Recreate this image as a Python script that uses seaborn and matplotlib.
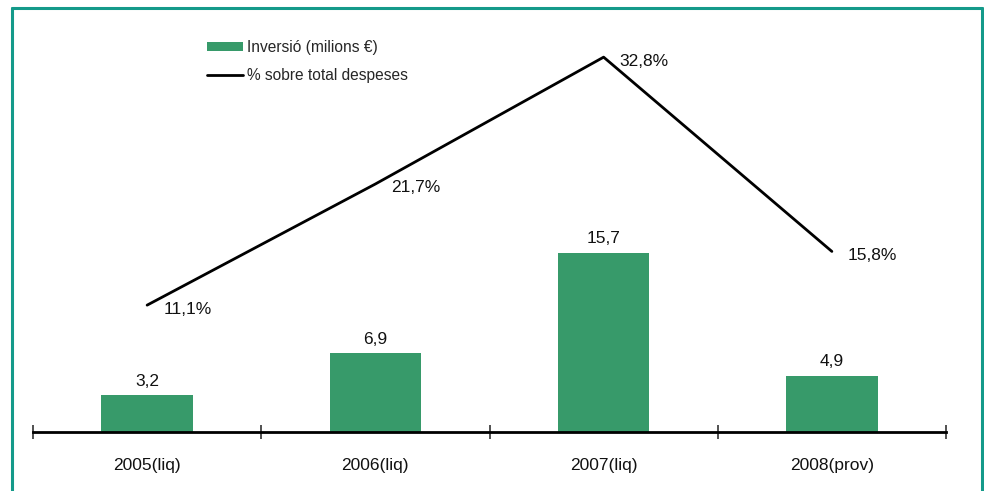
import matplotlib
matplotlib.use("Agg")
import matplotlib.pyplot as plt
from matplotlib.lines import Line2D
from matplotlib.patches import Patch
import seaborn as sns
import numpy as np
import pandas as pd

categories = ["2005(liq)", "2006(liq)", "2007(liq)", "2008(prov)"]
inversio = [3.2, 6.9, 15.7, 4.9]
pct_despeses = [11.1, 21.7, 32.8, 15.8]
bar_labels = ["3,2", "6,9", "15,7", "4,9"]
pct_labels = ["11,1%", "21,7%", "32,8%", "15,8%"]

BAR_COLOR = "#379a6a"
FRAME_COLOR = "#149a8a"
FS = 12.5
LEG_FS = 11.2

sns.set_theme(style="white")
plt.rcParams["font.family"] = ["Liberation Sans", "DejaVu Sans"]

W, H = 984, 491
fig = plt.figure(figsize=(W / 100, H / 100), dpi=100)
ax = fig.add_axes([33 / W, 1 - 432 / H, (946 - 33) / W, (432 - 32) / H])

df = pd.DataFrame({"any": categories, "inversio": inversio, "pct": pct_despeses})

sns.barplot(data=df, x="any", y="inversio", color=BAR_COLOR, width=0.4,
            saturation=1, linewidth=0, ax=ax, zorder=2)
ymax = 35
ax.set_ylim(0, ymax)
ax.set_xlim(-0.5, 3.5)

for i, (v, lab) in enumerate(zip(inversio, bar_labels)):
    ax.annotate(lab, (i, v), xytext=(0, 14), textcoords="offset pixels",
                ha="center", va="center", fontsize=FS, color="#111111")

# percentage series on a secondary axis with the same range
ax2 = ax.twinx()
sns.lineplot(data=df, x="any", y="pct", color="black", linewidth=2,
             sort=False, ax=ax2, zorder=3)
ax2.set_ylim(0, ymax)
ax2.set_yticks([])
ax2.set_ylabel("")
for s in ax2.spines.values():
    s.set_visible(False)
for i, (v, lab) in enumerate(zip(pct_despeses, pct_labels)):
    ax2.annotate(lab, (i, v), xytext=(16, -4), textcoords="offset pixels",
                 ha="left", va="center", fontsize=FS, color="#111111")

# axes styling: only the category axis line, ticks between categories
for side in ["left", "right", "top"]:
    ax.spines[side].set_visible(False)
ax.spines["bottom"].set_color("black")
ax.spines["bottom"].set_linewidth(2)
ax.set_yticks([])
ax.set_ylabel("")
ax.set_xlabel("")
ax.set_xticks(range(len(categories)))
ax.set_xticklabels(categories, fontsize=FS, color="#111111")
ax.tick_params(axis="x", which="major", length=0, pad=19)
ax.set_xticks(np.arange(-0.5, len(categories), 1.0), minor=True)
ax.tick_params(axis="x", which="minor", direction="inout", length=10,
               width=1.2, color="#333333", bottom=True)

handles = [Patch(facecolor=BAR_COLOR, edgecolor="none"),
           Line2D([0], [0], color="black", linewidth=2)]
fig.legend(handles, ["Inversió (milions €)", "% sobre total despeses"],
           loc="upper left", bbox_to_anchor=(207 / W, 1 - 40 / H),
           frameon=False, fontsize=LEG_FS, handlelength=2.3, handleheight=0.55,
           handletextpad=0.25, labelspacing=0.85, borderpad=0, borderaxespad=0)

# outer frame
lw = 2.2
fig.add_artist(Line2D([12 / W, 12 / W], [0, 1 - 8 / H], color=FRAME_COLOR, linewidth=lw,
                      transform=fig.transFigure))
fig.add_artist(Line2D([12 / W, 982 / W], [1 - 8 / H, 1 - 8 / H], color=FRAME_COLOR,
                      linewidth=lw, transform=fig.transFigure))
fig.add_artist(Line2D([982 / W, 982 / W], [0, 1 - 8 / H], color=FRAME_COLOR, linewidth=lw,
                      transform=fig.transFigure))

fig.savefig("out.png", dpi=100)
